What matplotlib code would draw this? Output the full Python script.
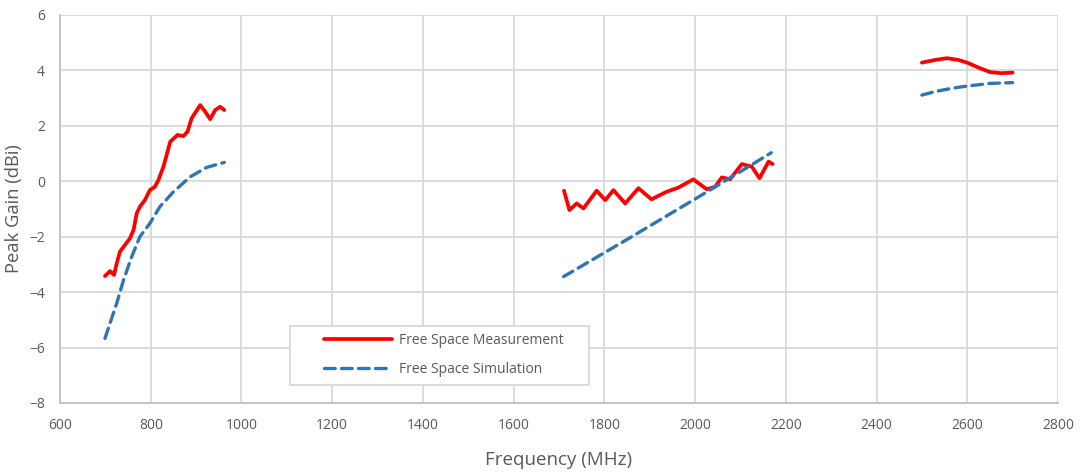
import matplotlib
matplotlib.use("Agg")
import matplotlib.pyplot as plt
from matplotlib.patches import Rectangle

# Low band (MHz, dBi)
low_meas_f = [699, 710, 719, 725, 732, 743, 754, 762, 769, 776, 787, 798, 809, 817,
              828, 843, 859, 872, 881, 890, 909, 920, 931, 942, 953, 962]
low_meas_g = [-3.42, -3.24, -3.38, -2.96, -2.54, -2.30, -2.06, -1.76, -1.16, -0.92,
              -0.68, -0.32, -0.20, 0.05, 0.53, 1.43, 1.67, 1.63, 1.79, 2.27, 2.75,
              2.51, 2.24, 2.57, 2.69, 2.57]
low_sim_f = [699, 710, 725, 740, 758, 776, 798, 820, 850, 887, 923, 962]
low_sim_g = [-5.67, -5.13, -4.40, -3.56, -2.72, -2.00, -1.52, -0.92, -0.38, 0.16,
             0.50, 0.68]

# Mid band
mid_meas_f = [1711, 1723, 1739, 1754, 1783, 1802, 1820, 1846, 1875, 1904, 1937, 1963,
              1996, 2026, 2044, 2059, 2077, 2103, 2125, 2142, 2162, 2171]
mid_meas_g = [-0.34, -1.04, -0.80, -0.98, -0.34, -0.68, -0.32, -0.80, -0.25, -0.65,
              -0.38, -0.23, 0.07, -0.29, -0.20, 0.14, 0.07, 0.62, 0.53, 0.11, 0.71,
              0.62]
mid_sim_f = [1710, 1850, 2004, 2100, 2168]
mid_sim_g = [-3.44, -2.10, -0.60, 0.35, 1.03]

# High band
high_meas_f = [2500, 2530, 2555, 2580, 2600, 2625, 2650, 2675, 2700]
high_meas_g = [4.28, 4.38, 4.44, 4.38, 4.28, 4.10, 3.94, 3.90, 3.92]
high_sim_f = [2500, 2530, 2555, 2580, 2602, 2650, 2700]
high_sim_g = [3.11, 3.24, 3.32, 3.39, 3.44, 3.53, 3.56]

x_ticks = list(range(600, 2801, 200))
y_ticks = list(range(-8, 7, 2))

RED = "#FF0000"
BLUE = "#2E75B6"
GRID = "#D9D9D9"
TEXT = "#595959"
FONT = ["Open Sans", "DejaVu Sans"]

plt.rcParams["font.family"] = FONT

fig = plt.figure(figsize=(10.8, 4.74), dpi=100)
ax = fig.add_axes([0.0556, 0.1498, 0.924, 0.8186])

meas_kw = dict(color=RED, lw=2.7, solid_capstyle="round", solid_joinstyle="round", zorder=3)
sim_kw = dict(color=BLUE, lw=2.4, linestyle=(0, (3.2, 1.9)), dash_capstyle="round", zorder=3)

ax.plot(low_meas_f, low_meas_g, label="Free Space Measurement", **meas_kw)
ax.plot(mid_meas_f, mid_meas_g, **meas_kw)
ax.plot(high_meas_f, high_meas_g, **meas_kw)
ax.plot(low_sim_f, low_sim_g, label="Free Space Simulation", **sim_kw)
ax.plot(mid_sim_f, mid_sim_g, **sim_kw)
ax.plot(high_sim_f, high_sim_g, **sim_kw)

ax.set_xlim(600, 2800)
ax.set_ylim(-8, 6)
ax.set_xticks(x_ticks)
ax.set_yticks(y_ticks)
ax.grid(True, color=GRID, lw=1.3, zorder=0)
ax.set_axisbelow(True)
for side in ["top", "right"]:
    ax.spines[side].set_visible(False)
for side in ["left", "bottom"]:
    ax.spines[side].set_color("#BFBFBF")
    ax.spines[side].set_linewidth(1.3)
ax.tick_params(length=0, pad=11, labelsize=10, labelcolor=TEXT)

ax.set_xlabel("Frequency (MHz)", fontsize=13.5, color=TEXT, labelpad=13)
ax.set_ylabel("Peak Gain (dBi)", fontsize=13.2, color=TEXT, labelpad=4)

# Legend frame and entries
frame = Rectangle((0.2305, 0.046), 0.2995, 0.153, transform=ax.transAxes,
                  facecolor="white", edgecolor="#D9D9D9", lw=1.3, zorder=4)
ax.add_patch(frame)
leg = ax.legend(loc="center left", bbox_to_anchor=(0.2575, 0.1237), frameon=False,
                fontsize=10, handlelength=4.9, handletextpad=0.5, labelspacing=1.05,
                borderpad=0, labelcolor=TEXT)
leg.set_zorder(5)

fig.savefig("out.png", dpi=100)
